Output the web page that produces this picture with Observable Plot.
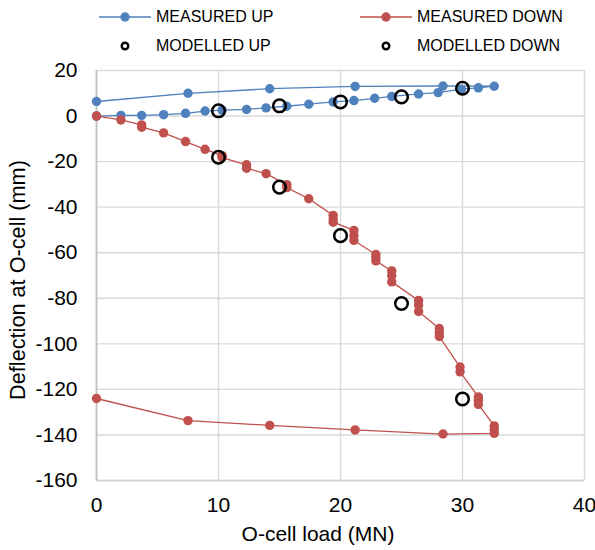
<!DOCTYPE html>
<html><head><meta charset="utf-8">
<script src="https://cdn.jsdelivr.net/npm/d3@7"></script>
<script src="https://cdn.jsdelivr.net/npm/@observablehq/plot@0.6"></script>
<style>
body{margin:0;background:#fff;font-family:"Liberation Sans",Arial,sans-serif;color:#000;}
#wrap{position:relative;width:595px;height:550px;overflow:hidden;}
#legend{position:absolute;left:0;top:0;width:595px;height:58px;z-index:2;}
.li{position:absolute;display:flex;align-items:center;font-size:16px;height:20px;}
.li svg{margin-right:5px;}
#chart{position:absolute;left:0;top:48px;z-index:1;}
#xtitle{position:absolute;top:522px;left:0;width:636px;text-align:center;font-size:21px;}
#ytitle{position:absolute;left:18px;top:280px;font-size:21.7px;white-space:nowrap;transform:translate(-50%,-50%) rotate(-90deg);z-index:3;}
</style></head><body>
<div id="wrap">
  <div id="chart"></div>
  <div id="legend"></div>
  <div id="xtitle">O-cell load (MN)</div>
  <div id="ytitle">Deflection at O-cell (mm)</div>
</div>
<script>
// Measured UP (load MN, deflection mm) — loading then unloading
const upLoad = [0,2.0,3.7,5.5,7.3,8.9,10.3,12.3,13.9,15.6,17.4,19.4,21.1,22.8,24.2,26.4,28.0,29.9,31.3,32.6, 28.4,21.2,14.2,7.5,0];
const upDefl = [0,0.3,0.3,0.6,1.2,2.2,2.6,2.9,3.6,4.3,5.2,6.2,6.8,7.8,8.6,9.7,10.3,11.8,12.4,13.1, 13.2,13.0,12.0,10.0,6.4];
// Measured DOWN
const downLoad = [0,2.0,3.7,3.7,5.5,7.3,8.9,10.3,10.3,12.3,12.3,13.9,15.6,15.6,17.4,19.4,19.4,19.4,21.1,21.1,21.1,22.9,22.9,22.9,24.2,24.2,24.2,26.4,26.4,26.4,28.1,28.1,28.1,29.8,29.8,31.3,31.3,31.3,32.6,32.6,32.6, 28.4,21.2,14.2,7.5,0];
const downDefl = [0,-1.7,-3.9,-4.9,-7.4,-11.2,-14.6,-17.4,-18.2,-21.4,-22.9,-25.3,-30.1,-31.4,-36.3,-43.6,-45.2,-46.6,-50.2,-52.5,-54.6,-60.8,-62.2,-63.6,-68.0,-70.0,-72.8,-81.0,-83.0,-85.8,-93.3,-95.0,-96.8,-110.2,-112.3,-123.3,-124.8,-126.6,-136.0,-137.5,-139.3, -139.6,-137.8,-135.8,-133.7,-124.0];
// Modelled
const modelLoad = [10,15,20,25,30];
const modelUp = [2.3,4.5,6.2,8.4,12.2];
const modelDown = [-18.1,-31.2,-52.5,-82.3,-124.2];
// Ticks
const xTicks = [0,10,20,30,40];
const yTicks = [-160,-140,-120,-100,-80,-60,-40,-20,0,20];
const seriesNames = ["MEASURED UP","MEASURED DOWN","MODELLED UP","MODELLED DOWN"];

const BLUE = "#4f81bd", RED = "#c0504d";
const up = upLoad.map((x,i)=>({x, y: upDefl[i]}));
const down = downLoad.map((x,i)=>({x, y: downDefl[i]}));
const mUp = modelLoad.map((x,i)=>({x, y: modelUp[i]}));
const mDown = modelLoad.map((x,i)=>({x, y: modelDown[i]}));

const chart = Plot.plot({
  width: 595, height: 502,
  marginTop: 22, marginBottom: 70, marginLeft: 96, marginRight: 11,
  style: {fontFamily: '"Liberation Sans", Arial, sans-serif', color: "#000", background: "transparent"},
  x: {domain: [0,40]},
  y: {domain: [-160,20]},
  marks: [
    Plot.gridX(xTicks, {stroke: "#d9d9d9", strokeOpacity: 1, strokeWidth: 1.4}),
    Plot.gridY(yTicks, {stroke: "#d9d9d9", strokeOpacity: 1, strokeWidth: 1.4}),
    Plot.ruleX([0], {stroke: "#bfbfbf", strokeWidth: 1.6}),
    Plot.ruleY([-160], {stroke: "#d0d0d0", strokeWidth: 1.6}),
    Plot.axisX(xTicks, {tickSize: 0, tickPadding: 17, fontSize: 21, label: null, tickFormat: d => String(d)}),
    Plot.axisY(yTicks, {tickSize: 0, tickPadding: 19, fontSize: 21, label: null, tickFormat: d => String(d)}),
    Plot.line(up, {x: "x", y: "y", stroke: BLUE, strokeWidth: 1.3}),
    Plot.dot(up, {x: "x", y: "y", r: 4.7, fill: BLUE, stroke: "none"}),
    Plot.line(down, {x: "x", y: "y", stroke: RED, strokeWidth: 1.3}),
    Plot.dot(down, {x: "x", y: "y", r: 4.7, fill: RED, stroke: "none"}),
    Plot.dot(mUp, {x: "x", y: "y", r: 6.3, fill: "none", stroke: "#000", strokeWidth: 2.5}),
    Plot.dot(mDown, {x: "x", y: "y", r: 6.3, fill: "none", stroke: "#000", strokeWidth: 2.5})
  ]
});
document.getElementById("chart").appendChild(chart);

// Legend
const legendItems = [
  {name: seriesNames[0], kind: "line", color: BLUE, left: 99, top: 7},
  {name: seriesNames[1], kind: "line", color: RED, left: 360, top: 7},
  {name: seriesNames[2], kind: "ring", color: "#000", left: 99, top: 36},
  {name: seriesNames[3], kind: "ring", color: "#000", left: 360, top: 36}
];
const leg = document.getElementById("legend");
for (const it of legendItems) {
  const d = document.createElement("div");
  d.className = "li";
  d.style.left = it.left + "px";
  d.style.top = it.top + "px";
  const sym = it.kind === "line"
    ? `<svg width="52" height="20"><line x1="0" y1="10" x2="52" y2="10" stroke="${it.color}" stroke-width="1.3"/><circle cx="26" cy="10" r="4.7" fill="${it.color}"/></svg>`
    : `<svg width="52" height="20"><circle cx="26" cy="10" r="3.3" fill="none" stroke="${it.color}" stroke-width="2.4"/></svg>`;
  d.innerHTML = sym + `<span>${it.name}</span>`;
  leg.appendChild(d);
}
</script>
</body></html>
